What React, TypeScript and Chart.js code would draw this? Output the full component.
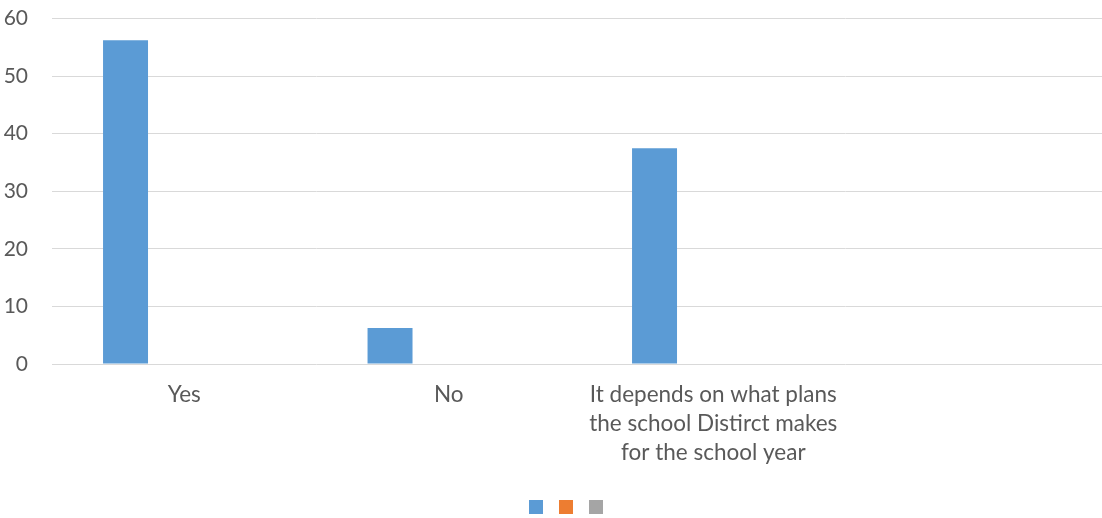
import React, { useEffect, useRef } from "react";
import { Chart, registerables } from "chart.js";

Chart.register(...registerables);

const categories: (string | string[])[] = [
  "Yes",
  "No",
  ["It depends on what plans", "the school Distirct makes", "for the school year"],
  "",
];
const seriesA: (number | null)[] = [56.25, 6.25, 37.5, null];
const seriesB: (number | null)[] = [null, null, null, null];
const seriesC: (number | null)[] = [null, null, null, null];
const seriesLabels = ["", "", ""];
const seriesColors = ["#5B9BD5", "#ED7D31", "#A5A5A5"];
const yMin = 0;
const yMax = 60;
const yStep = 10;

const FONT = "Lato, 'Open Sans', sans-serif";
const TEXT = "#595959";

const legendShift = {
  id: "legendShift",
  afterLayout(chart: any) {
    if (chart.legend) {
      chart.legend.left = 28;
    }
  },
};

export default function App() {
  const ref = useRef<HTMLCanvasElement | null>(null);

  useEffect(() => {
    if (!ref.current) return;
    const chart = new Chart(ref.current, {
      type: "bar",
      data: {
        labels: categories,
        datasets: [seriesA, seriesB, seriesC].map((d, i) => ({
          label: seriesLabels[i],
          data: d,
          backgroundColor: seriesColors[i],
          borderWidth: 0,
          categoryPercentage: 0.666,
          barPercentage: 0.766,
        })),
      },
      options: {
        responsive: false,
        animation: false,
        layout: { padding: { left: 0, top: 1, right: 0, bottom: 0 } },
        plugins: {
          legend: {
            position: "bottom",
            labels: {
              boxWidth: 14,
              boxHeight: 14,
              padding: 10,
              font: { size: 12, family: FONT },
              color: TEXT,
            },
          },
          tooltip: { enabled: false },
        },
        scales: {
          x: {
            grid: { display: false, drawTicks: false },
            border: { display: false },
            ticks: {
              color: TEXT,
              font: { size: 22.5, family: FONT, lineHeight: 1.29 },
              padding: 16,
              maxRotation: 0,
              minRotation: 0,
              autoSkip: false,
            },
            afterFit: (s: any) => {
              s.height = 126;
            },
          },
          y: {
            min: yMin,
            max: yMax,
            grid: { color: "#D9D9D9", lineWidth: 1, drawTicks: false },
            border: { display: false },
            ticks: {
              stepSize: yStep,
              color: TEXT,
              font: { size: 21, family: FONT },
              padding: 24,
            },
            afterFit: (s: any) => {
              s.width = 52;
            },
          },
        },
      },
      plugins: [legendShift],
    });
    return () => chart.destroy();
  }, []);

  return (
    <div
      style={{
        position: "absolute",
        left: 0,
        top: 0,
        width: 1102,
        height: 518,
        overflow: "hidden",
        background: "#fff",
      }}
    >
      <canvas
        ref={ref}
        width={1110}
        height={542}
        style={{ width: 1110, height: 542, display: "block", position: "absolute", left: 0, top: -18 }}
      />
    </div>
  );
}
